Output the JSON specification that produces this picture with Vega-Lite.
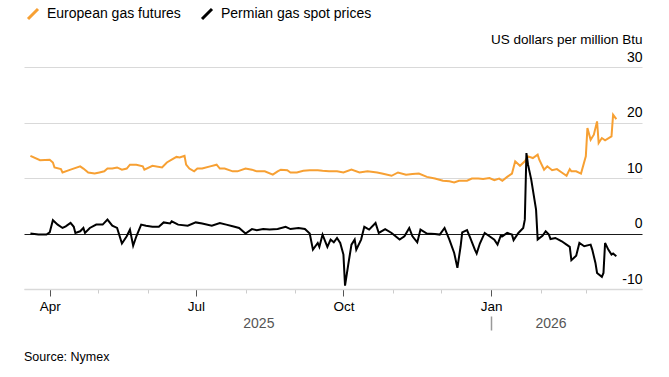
{
  "$schema": "https://vega.github.io/schema/vega-lite/v6.json",
  "width": 618,
  "height": 222,
  "autosize": {"type": "none"},
  "padding": {"left": 24, "top": 67, "right": 27, "bottom": 88},
  "background": "white",
  "config": {"font": "Liberation Sans", "view": {"stroke": null}},
  "title": {"text": "Source: Nymex", "orient": "bottom", "anchor": "start", "frame": "group", "offset": 20, "fontSize": 12.5, "fontWeight": "normal", "color": "#000"},
  "layer": [
    {
      "data": {"values": [
        {"date": "2025-03-20", "series": "European gas futures", "value": 14.0},
        {"date": "2025-03-26", "series": "European gas futures", "value": 13.2},
        {"date": "2025-04-01", "series": "European gas futures", "value": 13.3},
        {"date": "2025-04-03", "series": "European gas futures", "value": 12.8},
        {"date": "2025-04-04", "series": "European gas futures", "value": 11.9},
        {"date": "2025-04-08", "series": "European gas futures", "value": 11.6},
        {"date": "2025-04-09", "series": "European gas futures", "value": 11.0},
        {"date": "2025-04-14", "series": "European gas futures", "value": 11.5},
        {"date": "2025-04-20", "series": "European gas futures", "value": 12.1},
        {"date": "2025-04-22", "series": "European gas futures", "value": 11.7},
        {"date": "2025-04-25", "series": "European gas futures", "value": 11.0},
        {"date": "2025-04-29", "series": "European gas futures", "value": 10.8},
        {"date": "2025-05-02", "series": "European gas futures", "value": 11.0},
        {"date": "2025-05-05", "series": "European gas futures", "value": 11.2},
        {"date": "2025-05-07", "series": "European gas futures", "value": 11.7},
        {"date": "2025-05-10", "series": "European gas futures", "value": 11.7},
        {"date": "2025-05-13", "series": "European gas futures", "value": 11.9},
        {"date": "2025-05-16", "series": "European gas futures", "value": 11.5},
        {"date": "2025-05-19", "series": "European gas futures", "value": 11.7},
        {"date": "2025-05-21", "series": "European gas futures", "value": 12.4},
        {"date": "2025-05-25", "series": "European gas futures", "value": 12.4},
        {"date": "2025-05-29", "series": "European gas futures", "value": 12.1},
        {"date": "2025-05-30", "series": "European gas futures", "value": 11.5},
        {"date": "2025-06-04", "series": "European gas futures", "value": 12.2},
        {"date": "2025-06-10", "series": "European gas futures", "value": 11.9},
        {"date": "2025-06-13", "series": "European gas futures", "value": 12.8},
        {"date": "2025-06-16", "series": "European gas futures", "value": 13.3},
        {"date": "2025-06-19", "series": "European gas futures", "value": 13.8},
        {"date": "2025-06-21", "series": "European gas futures", "value": 13.7},
        {"date": "2025-06-24", "series": "European gas futures", "value": 14.0},
        {"date": "2025-06-25", "series": "European gas futures", "value": 12.4},
        {"date": "2025-06-27", "series": "European gas futures", "value": 11.7},
        {"date": "2025-06-30", "series": "European gas futures", "value": 11.2},
        {"date": "2025-07-02", "series": "European gas futures", "value": 11.7},
        {"date": "2025-07-05", "series": "European gas futures", "value": 11.7},
        {"date": "2025-07-10", "series": "European gas futures", "value": 12.1},
        {"date": "2025-07-14", "series": "European gas futures", "value": 12.4},
        {"date": "2025-07-16", "series": "European gas futures", "value": 11.7},
        {"date": "2025-07-19", "series": "European gas futures", "value": 11.7},
        {"date": "2025-07-24", "series": "European gas futures", "value": 11.2},
        {"date": "2025-07-27", "series": "European gas futures", "value": 11.2},
        {"date": "2025-08-01", "series": "European gas futures", "value": 11.7},
        {"date": "2025-08-05", "series": "European gas futures", "value": 11.5},
        {"date": "2025-08-08", "series": "European gas futures", "value": 11.2},
        {"date": "2025-08-13", "series": "European gas futures", "value": 11.2},
        {"date": "2025-08-18", "series": "European gas futures", "value": 10.6},
        {"date": "2025-08-21", "series": "European gas futures", "value": 11.2},
        {"date": "2025-08-23", "series": "European gas futures", "value": 11.5},
        {"date": "2025-08-27", "series": "European gas futures", "value": 11.4},
        {"date": "2025-08-29", "series": "European gas futures", "value": 11.0},
        {"date": "2025-09-02", "series": "European gas futures", "value": 11.0},
        {"date": "2025-09-06", "series": "European gas futures", "value": 11.3},
        {"date": "2025-09-10", "series": "European gas futures", "value": 11.4},
        {"date": "2025-09-15", "series": "European gas futures", "value": 11.4},
        {"date": "2025-09-18", "series": "European gas futures", "value": 11.3},
        {"date": "2025-09-22", "series": "European gas futures", "value": 11.2},
        {"date": "2025-09-27", "series": "European gas futures", "value": 11.2},
        {"date": "2025-10-01", "series": "European gas futures", "value": 11.0},
        {"date": "2025-10-06", "series": "European gas futures", "value": 11.5},
        {"date": "2025-10-11", "series": "European gas futures", "value": 11.0},
        {"date": "2025-10-16", "series": "European gas futures", "value": 11.2},
        {"date": "2025-10-22", "series": "European gas futures", "value": 11.0},
        {"date": "2025-10-25", "series": "European gas futures", "value": 10.8},
        {"date": "2025-10-31", "series": "European gas futures", "value": 10.4},
        {"date": "2025-11-04", "series": "European gas futures", "value": 11.0},
        {"date": "2025-11-09", "series": "European gas futures", "value": 10.6},
        {"date": "2025-11-13", "series": "European gas futures", "value": 10.7},
        {"date": "2025-11-17", "series": "European gas futures", "value": 10.8},
        {"date": "2025-11-22", "series": "European gas futures", "value": 10.2},
        {"date": "2025-11-27", "series": "European gas futures", "value": 9.9},
        {"date": "2025-12-02", "series": "European gas futures", "value": 9.5},
        {"date": "2025-12-06", "series": "European gas futures", "value": 9.4},
        {"date": "2025-12-09", "series": "European gas futures", "value": 9.2},
        {"date": "2025-12-12", "series": "European gas futures", "value": 9.5},
        {"date": "2025-12-17", "series": "European gas futures", "value": 9.5},
        {"date": "2025-12-20", "series": "European gas futures", "value": 9.9},
        {"date": "2025-12-24", "series": "European gas futures", "value": 9.9},
        {"date": "2025-12-27", "series": "European gas futures", "value": 9.8},
        {"date": "2025-12-31", "series": "European gas futures", "value": 10.0},
        {"date": "2026-01-03", "series": "European gas futures", "value": 9.6},
        {"date": "2026-01-06", "series": "European gas futures", "value": 9.9},
        {"date": "2026-01-08", "series": "European gas futures", "value": 9.5},
        {"date": "2026-01-11", "series": "European gas futures", "value": 10.2},
        {"date": "2026-01-14", "series": "European gas futures", "value": 10.8},
        {"date": "2026-01-16", "series": "European gas futures", "value": 13.0},
        {"date": "2026-01-19", "series": "European gas futures", "value": 12.2},
        {"date": "2026-01-22", "series": "European gas futures", "value": 13.0},
        {"date": "2026-01-24", "series": "European gas futures", "value": 13.9},
        {"date": "2026-01-27", "series": "European gas futures", "value": 13.6},
        {"date": "2026-01-30", "series": "European gas futures", "value": 14.2},
        {"date": "2026-01-31", "series": "European gas futures", "value": 13.3},
        {"date": "2026-02-03", "series": "European gas futures", "value": 11.5},
        {"date": "2026-02-05", "series": "European gas futures", "value": 12.1},
        {"date": "2026-02-08", "series": "European gas futures", "value": 11.4},
        {"date": "2026-02-11", "series": "European gas futures", "value": 11.6},
        {"date": "2026-02-14", "series": "European gas futures", "value": 11.0},
        {"date": "2026-02-17", "series": "European gas futures", "value": 10.4},
        {"date": "2026-02-19", "series": "European gas futures", "value": 11.6},
        {"date": "2026-02-20", "series": "European gas futures", "value": 11.2},
        {"date": "2026-02-23", "series": "European gas futures", "value": 11.2},
        {"date": "2026-02-26", "series": "European gas futures", "value": 10.8},
        {"date": "2026-03-01", "series": "European gas futures", "value": 13.9},
        {"date": "2026-03-02", "series": "European gas futures", "value": 19.0},
        {"date": "2026-03-04", "series": "European gas futures", "value": 16.9},
        {"date": "2026-03-06", "series": "European gas futures", "value": 17.8},
        {"date": "2026-03-08", "series": "European gas futures", "value": 20.2},
        {"date": "2026-03-09", "series": "European gas futures", "value": 16.3},
        {"date": "2026-03-11", "series": "European gas futures", "value": 17.2},
        {"date": "2026-03-13", "series": "European gas futures", "value": 16.8},
        {"date": "2026-03-17", "series": "European gas futures", "value": 17.5},
        {"date": "2026-03-18", "series": "European gas futures", "value": 21.4},
        {"date": "2026-03-20", "series": "European gas futures", "value": 20.6},
        {"date": "2025-03-20", "series": "Permian gas spot prices", "value": 0.0},
        {"date": "2025-03-25", "series": "Permian gas spot prices", "value": -0.2},
        {"date": "2025-03-30", "series": "Permian gas spot prices", "value": -0.2},
        {"date": "2025-04-01", "series": "Permian gas spot prices", "value": 0.2},
        {"date": "2025-04-03", "series": "Permian gas spot prices", "value": 2.4},
        {"date": "2025-04-06", "series": "Permian gas spot prices", "value": 1.6},
        {"date": "2025-04-09", "series": "Permian gas spot prices", "value": 1.0},
        {"date": "2025-04-11", "series": "Permian gas spot prices", "value": 1.3},
        {"date": "2025-04-14", "series": "Permian gas spot prices", "value": 1.9},
        {"date": "2025-04-16", "series": "Permian gas spot prices", "value": 1.2},
        {"date": "2025-04-17", "series": "Permian gas spot prices", "value": 0.1},
        {"date": "2025-04-20", "series": "Permian gas spot prices", "value": 0.4},
        {"date": "2025-04-22", "series": "Permian gas spot prices", "value": 1.0},
        {"date": "2025-04-23", "series": "Permian gas spot prices", "value": 0.1},
        {"date": "2025-04-26", "series": "Permian gas spot prices", "value": 1.0},
        {"date": "2025-04-30", "series": "Permian gas spot prices", "value": 1.6},
        {"date": "2025-05-04", "series": "Permian gas spot prices", "value": 1.6},
        {"date": "2025-05-07", "series": "Permian gas spot prices", "value": 2.5},
        {"date": "2025-05-10", "series": "Permian gas spot prices", "value": 1.4},
        {"date": "2025-05-13", "series": "Permian gas spot prices", "value": 1.0},
        {"date": "2025-05-16", "series": "Permian gas spot prices", "value": -1.8},
        {"date": "2025-05-19", "series": "Permian gas spot prices", "value": -0.5},
        {"date": "2025-05-21", "series": "Permian gas spot prices", "value": 0.7},
        {"date": "2025-05-23", "series": "Permian gas spot prices", "value": -2.2},
        {"date": "2025-05-25", "series": "Permian gas spot prices", "value": -0.5},
        {"date": "2025-05-28", "series": "Permian gas spot prices", "value": 1.6},
        {"date": "2025-05-31", "series": "Permian gas spot prices", "value": 1.4},
        {"date": "2025-06-04", "series": "Permian gas spot prices", "value": 1.2},
        {"date": "2025-06-08", "series": "Permian gas spot prices", "value": 1.2},
        {"date": "2025-06-11", "series": "Permian gas spot prices", "value": 2.0},
        {"date": "2025-06-15", "series": "Permian gas spot prices", "value": 1.8},
        {"date": "2025-06-16", "series": "Permian gas spot prices", "value": 2.2},
        {"date": "2025-06-20", "series": "Permian gas spot prices", "value": 1.6},
        {"date": "2025-06-26", "series": "Permian gas spot prices", "value": 1.4},
        {"date": "2025-07-01", "series": "Permian gas spot prices", "value": 2.0},
        {"date": "2025-07-05", "series": "Permian gas spot prices", "value": 1.8},
        {"date": "2025-07-11", "series": "Permian gas spot prices", "value": 1.4},
        {"date": "2025-07-16", "series": "Permian gas spot prices", "value": 1.9},
        {"date": "2025-07-20", "series": "Permian gas spot prices", "value": 1.6},
        {"date": "2025-07-24", "series": "Permian gas spot prices", "value": 1.3},
        {"date": "2025-07-28", "series": "Permian gas spot prices", "value": 1.0},
        {"date": "2025-08-01", "series": "Permian gas spot prices", "value": 0.0},
        {"date": "2025-08-05", "series": "Permian gas spot prices", "value": 0.8},
        {"date": "2025-08-08", "series": "Permian gas spot prices", "value": 0.6},
        {"date": "2025-08-12", "series": "Permian gas spot prices", "value": 0.8},
        {"date": "2025-08-16", "series": "Permian gas spot prices", "value": 0.7},
        {"date": "2025-08-21", "series": "Permian gas spot prices", "value": 0.8},
        {"date": "2025-08-26", "series": "Permian gas spot prices", "value": 1.2},
        {"date": "2025-08-29", "series": "Permian gas spot prices", "value": 0.8},
        {"date": "2025-09-03", "series": "Permian gas spot prices", "value": 1.0},
        {"date": "2025-09-07", "series": "Permian gas spot prices", "value": 0.8},
        {"date": "2025-09-10", "series": "Permian gas spot prices", "value": 0.0},
        {"date": "2025-09-12", "series": "Permian gas spot prices", "value": -2.9},
        {"date": "2025-09-15", "series": "Permian gas spot prices", "value": -1.7},
        {"date": "2025-09-16", "series": "Permian gas spot prices", "value": -2.4},
        {"date": "2025-09-18", "series": "Permian gas spot prices", "value": -0.2},
        {"date": "2025-09-21", "series": "Permian gas spot prices", "value": -2.4},
        {"date": "2025-09-23", "series": "Permian gas spot prices", "value": -1.1},
        {"date": "2025-09-25", "series": "Permian gas spot prices", "value": -1.6},
        {"date": "2025-09-27", "series": "Permian gas spot prices", "value": -0.8},
        {"date": "2025-09-29", "series": "Permian gas spot prices", "value": -1.7},
        {"date": "2025-10-01", "series": "Permian gas spot prices", "value": -3.8},
        {"date": "2025-10-02", "series": "Permian gas spot prices", "value": -9.4},
        {"date": "2025-10-04", "series": "Permian gas spot prices", "value": -5.6},
        {"date": "2025-10-06", "series": "Permian gas spot prices", "value": -2.0},
        {"date": "2025-10-08", "series": "Permian gas spot prices", "value": -1.1},
        {"date": "2025-10-09", "series": "Permian gas spot prices", "value": -2.9},
        {"date": "2025-10-12", "series": "Permian gas spot prices", "value": -1.1},
        {"date": "2025-10-14", "series": "Permian gas spot prices", "value": 1.2},
        {"date": "2025-10-17", "series": "Permian gas spot prices", "value": 0.7},
        {"date": "2025-10-21", "series": "Permian gas spot prices", "value": 1.9},
        {"date": "2025-10-23", "series": "Permian gas spot prices", "value": 0.1},
        {"date": "2025-10-27", "series": "Permian gas spot prices", "value": 0.8},
        {"date": "2025-10-31", "series": "Permian gas spot prices", "value": 0.1},
        {"date": "2025-11-05", "series": "Permian gas spot prices", "value": -1.1},
        {"date": "2025-11-08", "series": "Permian gas spot prices", "value": -0.5},
        {"date": "2025-11-11", "series": "Permian gas spot prices", "value": 1.0},
        {"date": "2025-11-13", "series": "Permian gas spot prices", "value": -0.5},
        {"date": "2025-11-16", "series": "Permian gas spot prices", "value": -1.6},
        {"date": "2025-11-18", "series": "Permian gas spot prices", "value": 0.7},
        {"date": "2025-11-22", "series": "Permian gas spot prices", "value": 0.0},
        {"date": "2025-11-27", "series": "Permian gas spot prices", "value": -0.1},
        {"date": "2025-11-30", "series": "Permian gas spot prices", "value": -0.2},
        {"date": "2025-12-03", "series": "Permian gas spot prices", "value": 1.0},
        {"date": "2025-12-06", "series": "Permian gas spot prices", "value": -1.1},
        {"date": "2025-12-09", "series": "Permian gas spot prices", "value": -3.5},
        {"date": "2025-12-11", "series": "Permian gas spot prices", "value": -6.2},
        {"date": "2025-12-13", "series": "Permian gas spot prices", "value": -2.3},
        {"date": "2025-12-14", "series": "Permian gas spot prices", "value": 0.2},
        {"date": "2025-12-17", "series": "Permian gas spot prices", "value": 0.6},
        {"date": "2025-12-19", "series": "Permian gas spot prices", "value": -0.8},
        {"date": "2025-12-22", "series": "Permian gas spot prices", "value": -3.0},
        {"date": "2025-12-23", "series": "Permian gas spot prices", "value": -3.6},
        {"date": "2025-12-25", "series": "Permian gas spot prices", "value": -1.8},
        {"date": "2025-12-28", "series": "Permian gas spot prices", "value": 0.1},
        {"date": "2025-12-31", "series": "Permian gas spot prices", "value": -0.5},
        {"date": "2026-01-03", "series": "Permian gas spot prices", "value": -1.1},
        {"date": "2026-01-05", "series": "Permian gas spot prices", "value": -2.0},
        {"date": "2026-01-07", "series": "Permian gas spot prices", "value": -0.4},
        {"date": "2026-01-08", "series": "Permian gas spot prices", "value": -0.5},
        {"date": "2026-01-11", "series": "Permian gas spot prices", "value": 0.1},
        {"date": "2026-01-14", "series": "Permian gas spot prices", "value": -0.2},
        {"date": "2026-01-15", "series": "Permian gas spot prices", "value": -1.2},
        {"date": "2026-01-18", "series": "Permian gas spot prices", "value": 0.1},
        {"date": "2026-01-21", "series": "Permian gas spot prices", "value": 1.0},
        {"date": "2026-01-22", "series": "Permian gas spot prices", "value": 2.5},
        {"date": "2026-01-23", "series": "Permian gas spot prices", "value": 14.5},
        {"date": "2026-01-24", "series": "Permian gas spot prices", "value": 12.4},
        {"date": "2026-01-26", "series": "Permian gas spot prices", "value": 9.7},
        {"date": "2026-01-27", "series": "Permian gas spot prices", "value": 7.9},
        {"date": "2026-01-29", "series": "Permian gas spot prices", "value": 4.3},
        {"date": "2026-01-30", "series": "Permian gas spot prices", "value": -1.1},
        {"date": "2026-02-02", "series": "Permian gas spot prices", "value": -0.4},
        {"date": "2026-02-04", "series": "Permian gas spot prices", "value": 0.4},
        {"date": "2026-02-06", "series": "Permian gas spot prices", "value": -0.2},
        {"date": "2026-02-07", "series": "Permian gas spot prices", "value": -1.0},
        {"date": "2026-02-10", "series": "Permian gas spot prices", "value": -0.8},
        {"date": "2026-02-12", "series": "Permian gas spot prices", "value": -1.1},
        {"date": "2026-02-14", "series": "Permian gas spot prices", "value": -1.4},
        {"date": "2026-02-17", "series": "Permian gas spot prices", "value": -2.0},
        {"date": "2026-02-19", "series": "Permian gas spot prices", "value": -2.4},
        {"date": "2026-02-20", "series": "Permian gas spot prices", "value": -4.8},
        {"date": "2026-02-23", "series": "Permian gas spot prices", "value": -4.0},
        {"date": "2026-02-25", "series": "Permian gas spot prices", "value": -1.7},
        {"date": "2026-02-28", "series": "Permian gas spot prices", "value": -2.3},
        {"date": "2026-03-04", "series": "Permian gas spot prices", "value": -2.0},
        {"date": "2026-03-05", "series": "Permian gas spot prices", "value": -2.9},
        {"date": "2026-03-07", "series": "Permian gas spot prices", "value": -5.3},
        {"date": "2026-03-08", "series": "Permian gas spot prices", "value": -7.1},
        {"date": "2026-03-11", "series": "Permian gas spot prices", "value": -7.8},
        {"date": "2026-03-12", "series": "Permian gas spot prices", "value": -7.1},
        {"date": "2026-03-13", "series": "Permian gas spot prices", "value": -1.7},
        {"date": "2026-03-15", "series": "Permian gas spot prices", "value": -2.9},
        {"date": "2026-03-17", "series": "Permian gas spot prices", "value": -3.8},
        {"date": "2026-03-18", "series": "Permian gas spot prices", "value": -3.6},
        {"date": "2026-03-20", "series": "Permian gas spot prices", "value": -4.1}
      ]},
      "mark": {"type": "line", "strokeWidth": 2},
      "encoding": {
        "x": {
          "field": "date", "type": "temporal",
          "scale": {"domain": [{"year": 2025, "month": 3, "date": 16}, {"year": 2026, "month": 4, "date": 5}]},
          "axis": {
            "title": null,
            "grid": false,
            "values": [
              {"year": 2025, "month": 4, "date": 1}, {"year": 2025, "month": 5, "date": 1}, {"year": 2025, "month": 6, "date": 1},
              {"year": 2025, "month": 7, "date": 1}, {"year": 2025, "month": 8, "date": 1}, {"year": 2025, "month": 9, "date": 1},
              {"year": 2025, "month": 10, "date": 1}, {"year": 2025, "month": 11, "date": 1}, {"year": 2025, "month": 12, "date": 1},
              {"year": 2026, "month": 1, "date": 1}, {"year": 2026, "month": 2, "date": 1}, {"year": 2026, "month": 3, "date": 1}
            ],
            "labelExpr": "indexof([3,6,9,0], month(datum.value)) >= 0 ? timeFormat(datum.value, '%b') : ''",
            "domainColor": "#d9d9d9",
            "domainWidth": 1.5,
            "tickColor": {"condition": {"test": "indexof([3,6,9,0], month(datum.value)) >= 0", "value": "#555555"}, "value": "#cccccc"},
            "tickSize": {"condition": {"test": "indexof([3,6,9,0], month(datum.value)) >= 0", "value": 7}, "value": 4},
            "tickWidth": 1,
            "labelFontSize": 13.5,
            "labelColor": "#000000",
            "labelPadding": 3,
            "labelFlush": false,
            "labelOverlap": false
          }
        },
        "y": {
          "field": "value", "type": "quantitative",
          "scale": {"domain": [-10, 30], "nice": false, "zero": false},
          "axis": {
            "orient": "right",
            "values": [-10, 0, 10, 20, 30],
            "domain": false,
            "ticks": false,
            "tickSize": 0,
            "labelAlign": "right",
            "labelBaseline": "alphabetic",
            "labelPadding": 0,
            "labelOffset": -6,
            "labelFontSize": 14,
            "labelColor": "#000000",
            "labelExpr": "replace(datum.label, '\u2212', '-')",
            "labelFlush": false,
            "labelOverlap": false,
            "gridColor": {"condition": {"test": "datum.value === 0", "value": "#1a1a1a"}, "value": "#d9d9d9"},
            "gridWidth": 1,
            "title": "US dollars per million Btu",
            "titleAngle": 0,
            "titleAlign": "right",
            "titleBaseline": "alphabetic",
            "titleX": 0,
            "titleY": -24,
            "titleFontSize": 13.5,
            "titleFontWeight": "normal",
            "titleColor": "#000000"
          }
        },
        "color": {
          "field": "series", "type": "nominal",
          "scale": {"domain": ["European gas futures", "Permian gas spot prices"], "range": ["#f7a033", "#000000"]},
          "legend": {
            "orient": "none",
            "legendX": 2,
            "legendY": -60,
            "direction": "horizontal",
            "title": null,
            "symbolType": "M-1,1L1,-1",
            "symbolSize": 100,
            "symbolStrokeWidth": 3,
            "labelFontSize": 14,
            "labelColor": "#000000",
            "labelOffset": 7,
            "columnPadding": 15,
            "padding": 0
          }
        }
      }
    },
    {
      "data": {"values": [{"date": "2025-08-09"}, {"date": "2026-01-01"}, {"date": "2026-02-07"}]},
      "mark": {"type": "point", "opacity": 0},
      "encoding": {
        "x": {
          "field": "date", "type": "temporal",
          "scale": {"domain": [{"year": 2025, "month": 3, "date": 16}, {"year": 2026, "month": 4, "date": 5}]},
          "axis": {
            "orient": "bottom",
            "offset": 27,
            "title": null,
            "domain": false,
            "grid": false,
            "values": [{"year": 2025, "month": 8, "date": 9}, {"year": 2026, "month": 1, "date": 1}, {"year": 2026, "month": 2, "date": 7}],
            "labelExpr": "month(datum.value) == 0 && date(datum.value) == 1 ? '' : timeFormat(datum.value, '%Y')",
            "tickSize": 14,
            "tickColor": "#999999",
            "tickWidth": 1.5,
            "tickOpacity": {"condition": {"test": "month(datum.value) == 0 && date(datum.value) == 1", "value": 1}, "value": 0},
            "labelPadding": -14,
            "labelBaseline": "top",
            "labelFontSize": 14,
            "labelColor": "#555555",
            "labelFlush": false,
            "labelOverlap": false
          }
        }
      }
    }
  ],
  "resolve": {"axis": {"x": "independent"}}
}
